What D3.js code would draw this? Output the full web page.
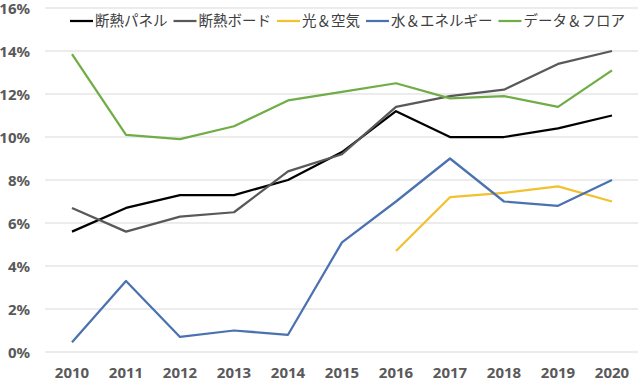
<!DOCTYPE html>
<html><head><meta charset="utf-8">
<script src="https://cdn.jsdelivr.net/npm/d3@7"></script>
<style>body{margin:0;background:#fff}svg{display:block}</style>
</head><body>
<svg id="c" width="640" height="383"></svg>
<script>
const years = ["2010","2011","2012","2013","2014","2015","2016","2017","2018","2019","2020"];
const yTicks = [0,2,4,6,8,10,12,14,16];
const panel  = [5.6,6.7,7.3,7.3,8.0,9.3,11.2,10.0,10.0,10.4,11.0];
const board  = [6.7,5.6,6.3,6.5,8.4,9.2,11.4,11.9,12.2,13.4,14.0];
const light  = [null,null,null,null,null,null,4.7,7.2,7.4,7.7,7.0];
const water  = [0.45,3.3,0.7,1.0,0.8,5.1,7.0,9.0,7.0,6.8,8.0];
const data   = [13.85,10.1,9.9,10.5,11.7,12.1,12.5,11.8,11.9,11.4,13.1];
const names  = ["断熱パネル","断熱ボード","光＆空気","水＆エネルギー","データ＆フロア"];
const colors = ["#000000","#595959","#F2C12E","#4A72B0","#70AD47"];
const seriesVals = [panel, board, light, water, data];

const svg = d3.select("#c");
const x = d3.scaleBand().domain(years).range([45, 639]);
const y = d3.scaleLinear().domain([0,16]).range([352, 8]);
const cx = d => x(d) + x.bandwidth()/2;

// gridlines
svg.append("g").selectAll("line").data(yTicks).join("line")
  .attr("x1", 45).attr("x2", 638)
  .attr("y1", d => y(d)).attr("y2", d => y(d))
  .attr("stroke", "#d9d9d9").attr("stroke-width", 1);

// y axis labels
const yAxis = d3.axisLeft(y).tickValues(yTicks).tickFormat(d => d + "%").tickSize(0).tickPadding(0);
const ga = svg.append("g").attr("transform", "translate(30,0)").call(yAxis);
ga.select(".domain").remove();
ga.selectAll("text").attr("fill", "#595959").attr("font-size", 15).attr("font-weight", "bold")
  .attr("font-family", "'Noto Sans', sans-serif").attr("text-anchor", "end").attr("x", 0).attr("dy", "0.35em");

// x axis labels
const xAxis = d3.axisBottom(x).tickSize(0).tickPadding(0);
const gx = svg.append("g").attr("transform", "translate(0,373)").call(xAxis);
gx.select(".domain").remove();
gx.selectAll("text").attr("fill", "#595959").attr("font-size", 15).attr("font-weight", "bold")
  .attr("font-family", "'Noto Sans', sans-serif").attr("dy", "0.35em").attr("y", 0);

// lines
const line = d3.line().defined(d => d.v != null).x(d => cx(d.year)).y(d => y(d.v));
seriesVals.forEach((vals, i) => {
  svg.append("path")
    .datum(years.map((yr, j) => ({year: yr, v: vals[j]})))
    .attr("d", line).attr("fill", "none")
    .attr("stroke", colors[i]).attr("stroke-width", 2.25)
    .attr("stroke-linejoin", "round");
});

// legend
const lg = svg.append("g").attr("transform", "translate(70,21)");
let lx = 0;
names.forEach((n, i) => {
  const g = lg.append("g").attr("transform", `translate(${lx},0)`);
  g.append("line").attr("x1", 0).attr("x2", 23).attr("y1", 0).attr("y2", 0)
    .attr("stroke", colors[i]).attr("stroke-width", 2.25);
  const t = g.append("text").attr("x", 25).attr("dy", "0.35em").text(n)
    .attr("font-size", 14.5).attr("fill", "#404040")
    .attr("font-family", "'Noto Sans CJK JP', sans-serif");
  lx += 25 + t.node().getComputedTextLength() + 6;
});
</script>
</body></html>
